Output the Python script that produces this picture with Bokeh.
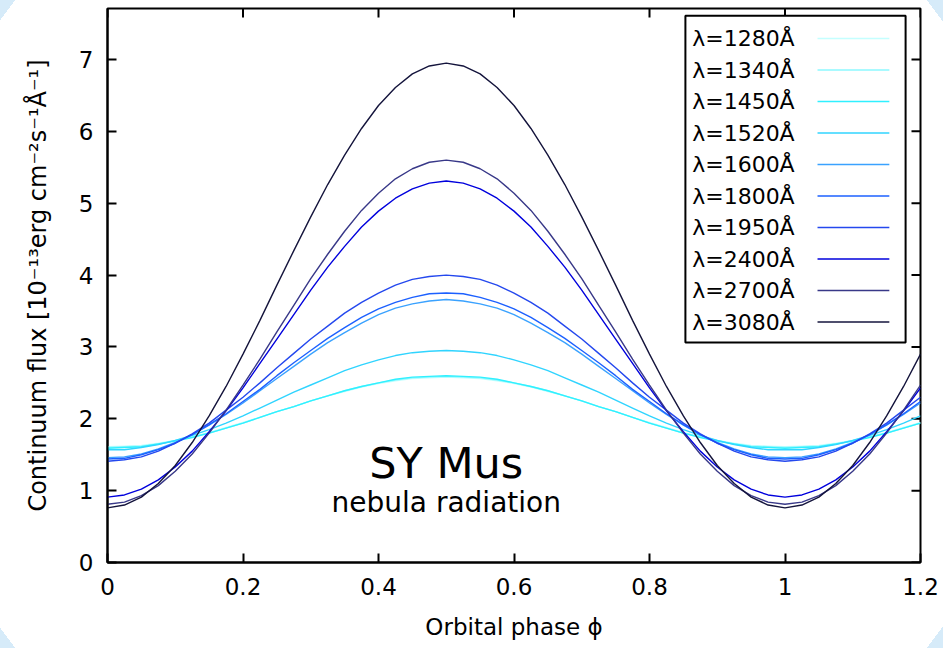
from bokeh.plotting import figure
from bokeh.models import Range1d, FixedTicker, Label, CustomJSTickFormatter
from bokeh.core.properties import value
from bokeh.embed import file_html
from bokeh.resources import INLINE

# ---------------- data ----------------
phase = [0.000, 0.025, 0.050, 0.075, 0.100, 0.125, 0.150, 0.175, 0.200, 0.225,
         0.250, 0.275, 0.300, 0.325, 0.350, 0.375, 0.400, 0.425, 0.450, 0.475,
         0.500, 0.525, 0.550, 0.575, 0.600, 0.625, 0.650, 0.675, 0.700, 0.725,
         0.750, 0.775, 0.800, 0.825, 0.850, 0.875, 0.900, 0.925, 0.950, 0.975,
         1.000, 1.025, 1.050, 1.075, 1.100, 1.125, 1.150, 1.175, 1.200]

wavelengths = ["1280", "1340", "1450", "1520", "1600",
               "1800", "1950", "2400", "2700", "3080"]

flux_1280 = [1.61, 1.62, 1.63, 1.66, 1.70, 1.75, 1.81, 1.88, 1.95, 2.02,
             2.10, 2.17, 2.25, 2.32, 2.38, 2.44, 2.49, 2.53, 2.56, 2.57,
             2.58, 2.57, 2.56, 2.53, 2.49, 2.44, 2.38, 2.32, 2.25, 2.17,
             2.10, 2.02, 1.95, 1.88, 1.81, 1.75, 1.70, 1.66, 1.63, 1.62,
             1.61, 1.62, 1.63, 1.66, 1.70, 1.75, 1.81, 1.88, 1.95]
flux_1340 = [1.60, 1.61, 1.62, 1.65, 1.70, 1.75, 1.80, 1.87, 1.94, 2.02,
             2.10, 2.17, 2.25, 2.32, 2.39, 2.45, 2.50, 2.54, 2.57, 2.58,
             2.59, 2.58, 2.57, 2.54, 2.50, 2.45, 2.39, 2.32, 2.25, 2.17,
             2.10, 2.02, 1.94, 1.87, 1.80, 1.75, 1.70, 1.65, 1.62, 1.61,
             1.60, 1.61, 1.62, 1.65, 1.70, 1.75, 1.80, 1.87, 1.94]
flux_1450 = [1.59, 1.60, 1.61, 1.65, 1.69, 1.74, 1.80, 1.87, 1.94, 2.02,
             2.10, 2.17, 2.25, 2.32, 2.39, 2.45, 2.50, 2.55, 2.58, 2.59,
             2.60, 2.59, 2.58, 2.55, 2.50, 2.45, 2.39, 2.32, 2.25, 2.17,
             2.10, 2.02, 1.94, 1.87, 1.80, 1.74, 1.69, 1.65, 1.61, 1.60,
             1.59, 1.60, 1.61, 1.65, 1.69, 1.74, 1.80, 1.87, 1.94]
flux_1520 = [1.57, 1.57, 1.60, 1.64, 1.70, 1.77, 1.85, 1.94, 2.04, 2.15,
             2.26, 2.37, 2.47, 2.57, 2.67, 2.75, 2.82, 2.88, 2.92, 2.94,
             2.95, 2.94, 2.92, 2.88, 2.82, 2.75, 2.67, 2.57, 2.47, 2.37,
             2.26, 2.15, 2.04, 1.94, 1.85, 1.77, 1.70, 1.64, 1.60, 1.57,
             1.57, 1.57, 1.60, 1.64, 1.70, 1.77, 1.85, 1.94, 2.04]
flux_1600 = [1.46, 1.47, 1.51, 1.58, 1.67, 1.78, 1.91, 2.06, 2.22, 2.39,
             2.56, 2.73, 2.90, 3.06, 3.20, 3.33, 3.45, 3.54, 3.60, 3.64,
             3.66, 3.64, 3.60, 3.54, 3.45, 3.33, 3.20, 3.06, 2.90, 2.73,
             2.56, 2.39, 2.22, 2.06, 1.91, 1.78, 1.67, 1.58, 1.51, 1.47,
             1.46, 1.47, 1.51, 1.58, 1.67, 1.78, 1.91, 2.06, 2.22]
flux_1800 = [1.44, 1.45, 1.50, 1.57, 1.66, 1.78, 1.92, 2.07, 2.24, 2.41,
             2.60, 2.78, 2.95, 3.12, 3.27, 3.41, 3.53, 3.62, 3.69, 3.74,
             3.75, 3.74, 3.69, 3.62, 3.53, 3.41, 3.27, 3.12, 2.95, 2.78,
             2.60, 2.41, 2.24, 2.07, 1.92, 1.78, 1.66, 1.57, 1.50, 1.45,
             1.44, 1.45, 1.50, 1.57, 1.66, 1.78, 1.92, 2.07, 2.24]
flux_1950 = [1.41, 1.43, 1.47, 1.55, 1.66, 1.79, 1.94, 2.12, 2.30, 2.50,
             2.71, 2.91, 3.11, 3.29, 3.47, 3.62, 3.75, 3.86, 3.94, 3.98,
             4.00, 3.98, 3.94, 3.86, 3.75, 3.62, 3.47, 3.29, 3.11, 2.91,
             2.71, 2.50, 2.30, 2.12, 1.94, 1.79, 1.66, 1.55, 1.47, 1.43,
             1.41, 1.43, 1.47, 1.55, 1.66, 1.79, 1.94, 2.12, 2.30]
flux_2400 = [0.91, 0.94, 1.02, 1.15, 1.33, 1.55, 1.82, 2.11, 2.43, 2.77,
             3.11, 3.45, 3.79, 4.11, 4.40, 4.67, 4.89, 5.07, 5.20, 5.28,
             5.31, 5.28, 5.20, 5.07, 4.89, 4.67, 4.40, 4.11, 3.79, 3.45,
             3.11, 2.77, 2.43, 2.11, 1.82, 1.55, 1.33, 1.15, 1.02, 0.94,
             0.91, 0.94, 1.02, 1.15, 1.33, 1.55, 1.82, 2.11, 2.43]
flux_2700 = [0.81, 0.84, 0.93, 1.07, 1.27, 1.51, 1.80, 2.12, 2.47, 2.83,
             3.21, 3.58, 3.95, 4.29, 4.61, 4.90, 5.14, 5.34, 5.48, 5.57,
             5.60, 5.57, 5.48, 5.34, 5.14, 4.90, 4.61, 4.29, 3.95, 3.58,
             3.21, 2.83, 2.47, 2.12, 1.80, 1.51, 1.27, 1.07, 0.93, 0.84,
             0.81, 0.84, 0.93, 1.07, 1.27, 1.51, 1.80, 2.12, 2.47]
flux_3080 = [0.76, 0.80, 0.91, 1.10, 1.35, 1.67, 2.04, 2.45, 2.90, 3.37,
             3.86, 4.34, 4.81, 5.26, 5.67, 6.04, 6.36, 6.61, 6.80, 6.91,
             6.95, 6.91, 6.80, 6.61, 6.36, 6.04, 5.67, 5.26, 4.81, 4.34,
             3.86, 3.37, 2.90, 2.45, 2.04, 1.67, 1.35, 1.10, 0.91, 0.80,
             0.76, 0.80, 0.91, 1.10, 1.35, 1.67, 2.04, 2.45, 2.90]

x_ticks = [0, 0.2, 0.4, 0.6, 0.8, 1.0, 1.2]
y_ticks = [0, 1, 2, 3, 4, 5, 6, 7]

series = [flux_1280, flux_1340, flux_1450, flux_1520, flux_1600,
          flux_1800, flux_1950, flux_2400, flux_2700, flux_3080]

colors = ["#c4ffff", "#8cf8ff", "#30f0ff", "#30d4ff", "#3aa2ff",
          "#1c60ff", "#2448ee", "#0000dd", "#383888", "#14143c"]

FONT = "DejaVu Sans"

X_MAX, Y_MAX = 1.2, 7.71
p = figure(width=943, height=648, output_backend="svg", toolbar_location=None,
           x_range=Range1d(0, X_MAX), y_range=Range1d(0, Y_MAX),
           min_border_left=107, min_border_right=23,
           min_border_top=8, min_border_bottom=86)

p.border_fill_color = None
p.background_fill_color = "white"
p.styles = {"background": "radial-gradient(ellipse 569px 541px at 471px 324px, "
                          "#ffffff 0%, #ffffff 100%, #d6ebf9 100%, #d6ebf9 104%, "
                          "#ffffff 104%)"}
p.grid.visible = False
p.outline_line_color = "black"
p.outline_line_width = 2

fmt = CustomJSTickFormatter(code="return String(Number(tick.toFixed(2)));")

xa = p.xaxis[0]
xa.ticker = FixedTicker(ticks=x_ticks)
xa.formatter = fmt
ya = p.yaxis[0]
ya.ticker = FixedTicker(ticks=y_ticks)
ya.formatter = fmt

for ax in (xa, ya):
    ax.axis_line_color = "black"
    ax.axis_line_width = 2
    ax.major_tick_in = 9
    ax.major_tick_out = 0
    ax.major_tick_line_width = 2
    ax.minor_tick_line_color = None
    ax.major_label_text_font = FONT
    ax.major_label_text_font_size = "23px"
    ax.major_label_text_color = "black"
    ax.axis_label_text_font = FONT
    ax.axis_label_text_font_style = "normal"
    ax.axis_label_text_color = "black"

xa.axis_label = "Orbital phase \u03d5"
xa.axis_label_text_font_size = "23px"
xa.major_label_standoff = 15
xa.axis_label_standoff = 16
ya.axis_label = "Continuum flux [10\u207b\u00b9\u00b3erg cm\u207b\u00b2s\u207b\u00b9\u00c5\u207b\u00b9]"
ya.axis_label_text_font_size = "24px"
ya.major_label_standoff = 14
ya.axis_label_standoff = 24

# mirrored inward ticks on the top and right frame edges
tick_len_y = 9 * Y_MAX / 554.0
tick_len_x = 9 * X_MAX / 813.0
p.segment(x0=x_ticks, x1=x_ticks, y0=[Y_MAX] * len(x_ticks),
          y1=[Y_MAX - tick_len_y] * len(x_ticks), line_color="black", line_width=2)
p.segment(x0=[X_MAX] * len(y_ticks), x1=[X_MAX - tick_len_x] * len(y_ticks),
          y0=y_ticks, y1=y_ticks, line_color="black", line_width=2)

# curves
for flux, col in zip(series, colors):
    p.line(phase, flux, line_color=col, line_width=1.4)

# annotations
p.add_layout(Label(x=0.5, y=1.39, text="SY Mus", text_align="center",
                   text_baseline="middle", text_font=FONT,
                   text_font_size="43px", text_color="black"))
p.add_layout(Label(x=0.5, y=0.835, text="nebula radiation", text_align="center",
                   text_baseline="middle", text_font=FONT,
                   text_font_size="28px", text_color="black"))

# legend (text left, sample line right), placed in data units
box_l, box_r, box_t, box_b = 0.853, 1.178, 7.61, 3.06
p.quad(left=[box_l], right=[box_r], top=[box_t], bottom=[box_b],
       fill_color="white", line_color="black", line_width=2)
row0, drow = 7.292, 0.4384
rows = [row0 - i * drow for i in range(len(wavelengths))]
labels = ["\u03bb=" + w + "\u00c5" for w in wavelengths]
p.text(x=[0.863] * len(rows), y=rows, text=labels, text_baseline="middle",
       text_align="left", text_font=value(FONT), text_font_size="22px",
       text_color="black")
p.segment(x0=[1.048] * len(rows), x1=[1.154] * len(rows), y0=rows, y1=rows,
          line_color=colors, line_width=1.5)

open("out.html", "w").write(file_html(p, INLINE))
